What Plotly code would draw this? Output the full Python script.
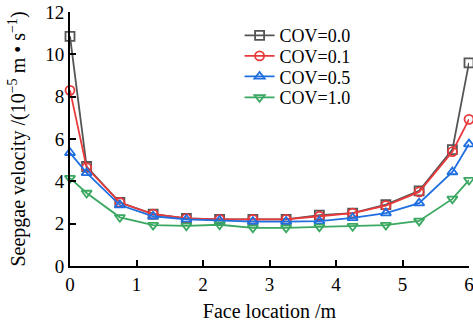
import plotly.graph_objects as go

x = [0, 0.25, 0.75, 1.25, 1.75, 2.25, 2.75, 3.25, 3.75, 4.25, 4.75, 5.25, 5.75, 6]
cov00 = [10.85, 4.7, 3.0, 2.45, 2.25, 2.2, 2.2, 2.2, 2.4, 2.5, 2.9, 3.55, 5.5, 9.6]
cov01 = [8.3, 4.65, 3.0, 2.45, 2.25, 2.2, 2.2, 2.2, 2.35, 2.5, 2.85, 3.5, 5.4, 6.93]
cov05 = [5.35, 4.4, 2.88, 2.35, 2.2, 2.15, 2.1, 2.1, 2.12, 2.27, 2.5, 2.97, 4.44, 5.76]
cov10 = [4.15, 3.45, 2.3, 1.93, 1.9, 1.95, 1.8, 1.8, 1.85, 1.88, 1.93, 2.13, 3.17, 4.06]

series = [
    ("COV=0.0", cov00, "#555555", "square-open"),
    ("COV=0.1", cov01, "#e8393b", "circle-open"),
    ("COV=0.5", cov05, "#1f6fe0", "triangle-up-open"),
    ("COV=1.0", cov10, "#3aa860", "triangle-down-open"),
]

font = "Liberation Serif, Times New Roman, serif"
legend_names = ["legend", "legend2", "legend3", "legend4"]
# legend row centres (paper fraction)
row_y = [0.907, 0.826, 0.745, 0.663]

fig = go.Figure()
layout_legends = {}
for i, (name, y, c, sym) in enumerate(series):
    fig.add_trace(go.Scatter(
        x=x, y=y, name=name, mode="lines+markers",
        line=dict(color=c, width=1.8),
        marker=dict(symbol=sym, size=9, color=c, line=dict(width=1.8, color=c)),
        cliponaxis=False, legend=legend_names[i],
    ))
    layout_legends[legend_names[i]] = dict(
        x=0.425, y=row_y[i], xanchor="left", yanchor="middle",
        bgcolor="rgba(0,0,0,0)", font=dict(size=18, family=font, color="black"),
        itemwidth=30,
    )

fig.update_layout(
    width=473, height=322,
    margin=dict(l=70, r=4, t=12, b=56),
    paper_bgcolor="white", plot_bgcolor="white",
    font=dict(family=font, size=19, color="black"),
    showlegend=True,
    **layout_legends,
    xaxis=dict(range=[0, 6], tickvals=[0, 1, 2, 3, 4, 5, 6], ticks="inside",
               ticklen=6, tickwidth=2, tickcolor="black", showline=True,
               linecolor="black", linewidth=2, showgrid=False, zeroline=False,
               ticklabeloverflow="allow", tickfont=dict(size=19), automargin=False,
               title=dict(text="Face location /m", font=dict(size=20), standoff=15)),
    yaxis=dict(range=[0, 12], tickvals=[0, 2, 4, 6, 8, 10, 12], ticks="inside",
               ticklen=6, tickwidth=2, tickcolor="black", showline=True,
               linecolor="black", linewidth=2, showgrid=False, zeroline=False,
               ticklabeloverflow="allow", tickfont=dict(size=19), automargin=False,
               title=dict(text="Seepgae velocity /(10<sup>−5</sup> m • s<sup>−1</sup>)",
                          font=dict(size=20), standoff=14)),
)
fig.write_html("out.html")
